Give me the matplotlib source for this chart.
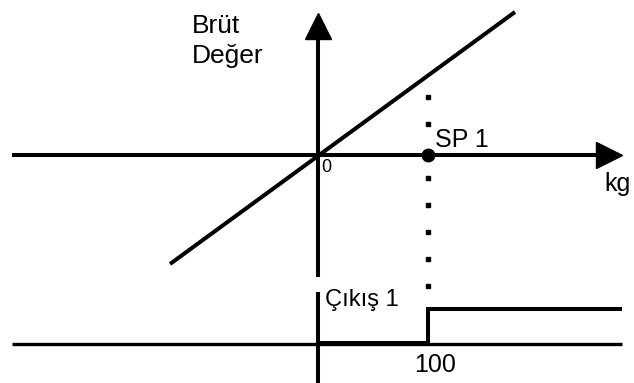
import matplotlib.pyplot as plt

plt.rcParams['font.family'] = ['Liberation Sans', 'DejaVu Sans']

# diagram units: x in kg (origin 0, setpoint at 100), y in arbitrary value units
sp = 100
axis_left, axis_right = -278, 276
axis_top = 130
upper_axis_bottom = -111
lower_axis_top, lower_axis_bottom = -124.5, -208
brut_x = [-134.5, 179.1]
brut_y = [-99.1, 130]
dot_y = [52.7, 28.2, -20.9, -45.5, -70, -94.5, -119.1]
out_axis_y = -172
out_x = [0, sp, sp, axis_right]
out_y = [-171, -171, -140, -140]

fig = plt.figure(figsize=(6.34, 3.83), dpi=100)
ax = fig.add_axes([0, 0, 1, 1])
ax.set_xlim(-289.1, 287.3)
ax.set_ylim(-207.3, 140.9)
ax.axis('off')

lw = 2.9
# x axis with arrow
ax.plot([axis_left, axis_right - 20], [0, 0], color='black', lw=lw, solid_capstyle='butt')
ax.plot([axis_right - 11.8], [0], marker='>', markersize=19, color='black')
# y axis with arrow
ax.plot([0, 0], [upper_axis_bottom, axis_top - 20], color='black', lw=lw, solid_capstyle='butt')
ax.plot([0], [axis_top - 12.7], marker='^', markersize=19, color='black')
# lower axis
ax.plot([0, 0], [lower_axis_top, lower_axis_bottom], color='black', lw=lw, solid_capstyle='butt')
ax.plot([axis_left, axis_right], [out_axis_y, out_axis_y], color='black', lw=2.4, solid_capstyle='butt')

# gross value line
ax.plot(brut_x, brut_y, color='black', lw=lw, solid_capstyle='butt')

# setpoint dotted marker line
ax.plot([sp] * len(dot_y), dot_y, linestyle='none', marker='s', markersize=3, color='black')
ax.plot([sp], [0], marker='o', markersize=9, color='black')

# output step
ax.plot(out_x, out_y, color='black', lw=lw, solid_capstyle='butt', solid_joinstyle='miter')

fs = 18
ax.text(-114.5, 110.9, 'Brüt', fontsize=19, ha='left', va='baseline')
ax.text(-114.5, 83.6, 'Değer', fontsize=19, ha='left', va='baseline')
ax.text(106, 7.3, 'SP 1', fontsize=fs, ha='left', va='baseline')
ax.text(260.5, -32.7, 'kg', fontsize=fs, ha='left', va='baseline')
ax.text(3.2, -15.5, '0', fontsize=13, ha='left', va='baseline')
ax.text(6, -137.3, 'Çıkış 1', fontsize=17, ha='left', va='baseline')
ax.text(106.4, -197.3, '100', fontsize=fs, ha='center', va='baseline')

fig.savefig('out.png', dpi=100)
